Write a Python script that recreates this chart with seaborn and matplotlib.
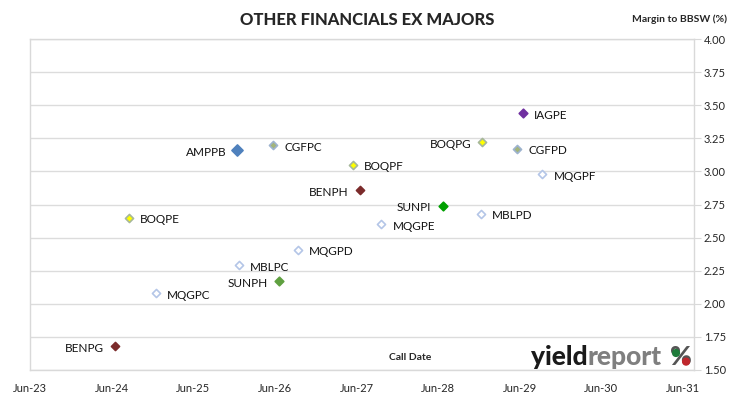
import pandas as pd
import matplotlib
matplotlib.use('Agg')
import matplotlib.pyplot as plt
import matplotlib.dates as mdates
import seaborn as sns
from matplotlib.offsetbox import TextArea, HPacker, AnchoredOffsetbox
from matplotlib.patches import Circle
from matplotlib.transforms import IdentityTransform

# --- DATA ---
CODES = ["AMPPB", "CGFPC", "BOQPF", "BENPH", "BOQPE", "IAGPE", "BOQPG", "CGFPD", "MQGPF",
         "SUNPI", "MBLPD", "MQGPE", "MQGPD", "MBLPC", "SUNPH", "MQGPC", "BENPG"]
CALL_DATES = ["2025-12-15", "2026-05-25", "2027-05-15", "2027-06-15", "2024-08-15", "2029-06-15",
              "2028-12-15", "2029-05-20", "2029-09-10", "2028-06-20", "2028-12-10", "2027-09-20",
              "2026-09-10", "2025-12-20", "2026-06-17", "2024-12-15", "2024-06-15"]
MARGINS = [3.16, 3.20, 3.05, 2.86, 2.65, 3.44, 3.22, 3.17, 2.98,
           2.74, 2.68, 2.60, 2.41, 2.29, 2.17, 2.08, 1.68]
LEFT_LABELS = ["AMPPB", "BENPH", "BOQPG", "SUNPI", "SUNPH", "BENPG"]
X_TICKS = ["2023-06-01", "2024-06-01", "2025-06-01", "2026-06-01", "2027-06-01",
           "2028-06-01", "2029-06-01", "2030-06-01", "2031-06-01"]
Y_TICKS = [1.50, 1.75, 2.00, 2.25, 2.50, 2.75, 3.00, 3.25, 3.50, 3.75, 4.00]

# marker style per code: (face, edge, size)
HOLLOW = ("white", "#B4C6E7", 17)
STYLES = {
    "AMPPB": ("#4F81BD", "#4F81BD", 32),
    "CGFPC": ("#A3B47A", "#9DB3CF", 17), "CGFPD": ("#A3B47A", "#9DB3CF", 17),
    "BOQPE": ("#FFFF00", "#A6B79A", 17), "BOQPF": ("#FFFF00", "#A6B79A", 17),
    "BOQPG": ("#FFFF00", "#A6B79A", 17),
    "BENPH": ("#7B2B2B", "#7B2B2B", 17), "BENPG": ("#7B2B2B", "#7B2B2B", 17),
    "IAGPE": ("#7030A0", "#7030A0", 19),
    "SUNPI": ("#00A000", "#00A000", 19), "SUNPH": ("#5FA040", "#5FA040", 19),
}
FONT = "Lato"

df = pd.DataFrame({"code": CODES, "call": pd.to_datetime(CALL_DATES), "margin": MARGINS})

sns.set_style("white")
plt.rcParams['font.family'] = [FONT, 'DejaVu Sans']

fig = plt.figure(figsize=(7.30, 3.99), dpi=100)
ax = fig.add_axes([30 / 730, 29 / 399, 664 / 730, 331 / 399])

for code, sub in df.groupby("code"):
    face, edge, size = STYLES.get(code, HOLLOW)
    sns.scatterplot(data=sub, x="call", y="margin", ax=ax, marker="D", s=size,
                    color=face, edgecolor=edge, linewidth=1.2, zorder=3, legend=False)

for _, r in df.iterrows():
    left = r["code"] in LEFT_LABELS
    ax.annotate(r["code"], (r["call"], r["margin"]), xytext=(-8 if left else 8, -1.5),
                textcoords="offset points", ha="right" if left else "left", va="center",
                fontsize=8.5, color="#111111")

ax.set_xlim(pd.Timestamp("2023-06-01"), pd.Timestamp("2031-07-20"))
ax.set_ylim(1.5, 4.0)
ax.set_xticks(pd.to_datetime(X_TICKS))
ax.xaxis.set_major_formatter(mdates.DateFormatter("%b-%y"))
ax.set_yticks(Y_TICKS)
ax.set_yticklabels([f"{v:.2f}" for v in Y_TICKS])
ax.yaxis.tick_right()
ax.tick_params(axis="y", length=5, color="#D9D9D9", labelsize=8, pad=2)
ax.tick_params(axis="x", length=0, labelsize=8, pad=9)
ax.grid(axis="y", color="#DCDCDC", linewidth=1)
for s in ax.spines.values():
    s.set_color("#D9D9D9")
    s.set_linewidth(1)
ax.set_xlabel("")
ax.set_ylabel("")

fig.text(0.503, 0.95, "OTHER FINANCIALS EX MAJORS", ha="center", va="center",
         fontsize=12, fontweight="black")
fig.text(727 / 730, 1 - 19 / 399, "Margin to BBSW (%)", ha="right", va="center",
         fontsize=7.5, fontweight="bold")
ax.text(0.54, 0.025, "Call Date", transform=ax.transAxes, ha="left", va="bottom",
        fontsize=7.5, fontweight="bold")

# yieldreport logo
logo = dict(fontsize=19, fontweight="black", family=[FONT])
word = HPacker(children=[TextArea("yield", textprops=dict(color="#1a1a1a", **logo)),
                         TextArea("report", textprops=dict(color="#7f7f7f", **logo))],
               pad=0, sep=0, align="baseline")
pct = TextArea("%", textprops=dict(color="#555555", **logo))
box = AnchoredOffsetbox(loc="lower right", child=HPacker(children=[word, pct], pad=0, sep=6, align="baseline"),
                        pad=0.05, frameon=False, bbox_to_anchor=(0.998, 0.0),
                        bbox_transform=ax.transAxes, borderpad=0)
ax.add_artist(box)

# coloured dots of the % sign, laid over its two rings
fig.canvas.draw()
bb = pct.get_window_extent()
for fx, fy, col in [(0.27, 0.68, "#1E7B3A"), (0.73, 0.32, "#C0272D")]:
    fig.patches.append(Circle((bb.x0 + fx * bb.width, bb.y0 + fy * bb.height), 3.4,
                              transform=IdentityTransform(), color=col, zorder=5))

fig.savefig("out.png", dpi=100)
